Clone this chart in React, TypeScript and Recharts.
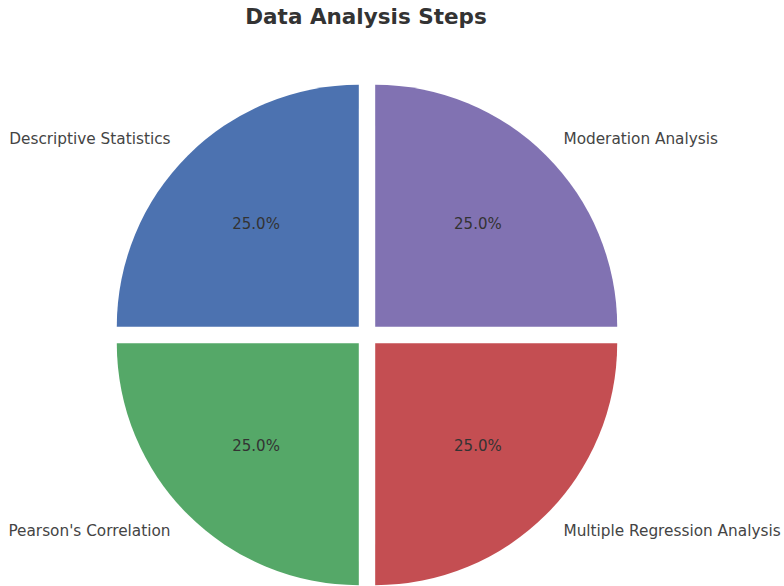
import { PieChart, Pie, Cell, Sector } from "recharts";

const steps = [
  "Descriptive Statistics",
  "Pearson's Correlation",
  "Multiple Regression Analysis",
  "Moderation Analysis",
];
const shares = [25, 25, 25, 25];
const colors = ["#4C72B0", "#55A868", "#C44E52", "#8172B2"];

const data = steps.map((name, i) => ({ name, value: shares[i] }));

const RAD = Math.PI / 180;
// matplotlib-style explode, as a fraction of the radius
const EXPLODE = 0.048;

function ExplodedSector(props: any) {
  const { cx, cy, midAngle, outerRadius } = props;
  const d = outerRadius * EXPLODE;
  return (
    <Sector
      {...props}
      cx={cx + d * Math.cos(-midAngle * RAD)}
      cy={cy + d * Math.sin(-midAngle * RAD)}
    />
  );
}

function renderLabel(props: any) {
  const { cx, cy, midAngle, outerRadius, percent, name } = props;
  const cos = Math.cos(-midAngle * RAD);
  const sin = Math.sin(-midAngle * RAD);
  const d = outerRadius * EXPLODE;
  const ox = cx + d * cos;
  const oy = cy + d * sin;
  const pr = outerRadius * 0.6;
  const lr = outerRadius * 1.1;
  return (
    <g>
      <text
        x={ox + pr * cos}
        y={oy + pr * sin}
        textAnchor="middle"
        dominantBaseline="central"
        fill="#333"
        fontSize={15}
        fontFamily="DejaVu Sans"
      >
        {(percent * 100).toFixed(1)}%
      </text>
      <text
        x={ox + lr * cos}
        y={oy + lr * sin}
        textAnchor={cos < 0 ? "end" : "start"}
        dominantBaseline="central"
        fill="#444"
        fontSize={15.3}
        fontFamily="DejaVu Sans"
      >
        {name}
      </text>
    </g>
  );
}

export default function App() {
  return (
    <div style={{ position: "relative", width: 784, height: 586, background: "#fff" }}>
      <style>{"body{margin:0}"}</style>
      <div
        style={{
          position: "absolute",
          top: 4,
          left: 0,
          width: 732,
          textAlign: "center",
          fontFamily: "DejaVu Sans",
          fontWeight: "bold",
          fontSize: 21.5,
          color: "#333",
        }}
      >
        Data Analysis Steps
      </div>
      <PieChart width={784} height={586}>
        <Pie
          data={data}
          dataKey="value"
          nameKey="name"
          cx={362}
          cy={330}
          outerRadius={242}
          startAngle={90}
          endAngle={450}
          stroke="none"
          labelLine={false}
          label={renderLabel}
          shape={ExplodedSector}
          isAnimationActive={false}
        >
          {data.map((d, i) => (
            <Cell key={d.name} fill={colors[i]} />
          ))}
        </Pie>
      </PieChart>
    </div>
  );
}
